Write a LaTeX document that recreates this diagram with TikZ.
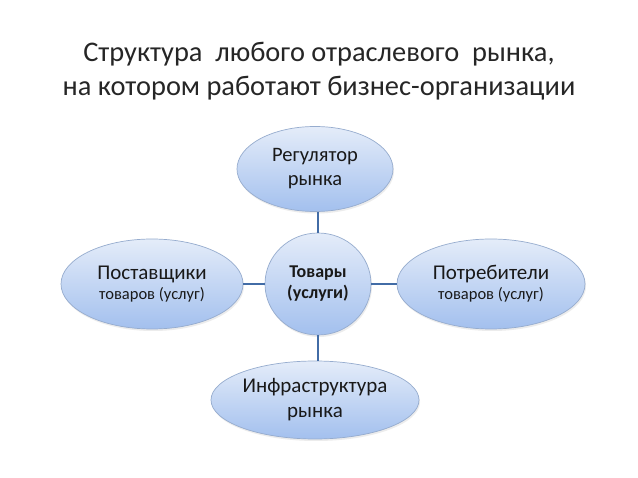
\documentclass[tikz,border=0pt]{standalone}
\usepackage{fontspec}
\setmainfont{Carlito}
\usepackage{tikz}
\usetikzlibrary{shapes.geometric,shadows}

\definecolor{elltop}{RGB}{228,236,249}
\definecolor{ellbot}{RGB}{163,192,238}
\definecolor{elledge}{RGB}{150,172,206}
\definecolor{linkblue}{RGB}{66,108,166}

\tikzset{
    oval/.style={ellipse, draw=elledge, line width=0.7pt, top color=elltop, bottom color=ellbot,
        inner sep=0pt, align=center, text=black!90,
        drop shadow={opacity=0.15, shadow xshift=1pt, shadow yshift=-2pt}},
    link/.style={draw=linkblue, line width=1.8pt}
}

\begin{document}
\begin{tikzpicture}[x=1pt, y=-1pt]
    % Frame
    \useasboundingbox (0,0) rectangle (638,478);
    \fill[white] (0,0) rectangle (638,478);

    % Title
    \node[anchor=base, align=center, text=black!85, font=\fontsize{28.4}{34}\selectfont] (title) at (319,96)
        {Структура\ \ любого отраслевого\ \ рынка,\\на котором работают бизнес-организации};

    % Centre
    \node[oval, minimum width=106pt, minimum height=102pt, font=\fontsize{18}{21}\selectfont\bfseries] (goods) at (318,284)
        {Товары\\(услуги)};

    % Regulator
    \node[oval, minimum width=156pt, minimum height=85pt, font=\fontsize{20.5}{24}\selectfont] (reg) at (315,169)
        {Регулятор\\рынка};

    % Suppliers
    \node[oval, minimum width=182pt, minimum height=90pt, font=\fontsize{21}{23}\selectfont] (supp) at (152,284)
        {Поставщики\\[-3pt]{\fontsize{16.5}{20}\selectfont товаров (услуг)}};

    % Consumers
    \node[oval, minimum width=188pt, minimum height=90pt, font=\fontsize{21}{23}\selectfont] (cons) at (491,284)
        {Потребители\\[-3pt]{\fontsize{16.5}{20}\selectfont товаров (услуг)}};

    % Infrastructure
    \node[oval, minimum width=208pt, minimum height=78pt, font=\fontsize{21}{25}\selectfont] (infra) at (315,400)
        {Инфраструктура\\рынка};

    % Links
    \draw[link] (goods.north) -- (goods.north |- reg.south);
    \draw[link] (goods.west) -- (supp.east);
    \draw[link] (goods.east) -- (cons.west);
    \draw[link] (goods.south) -- (goods.south |- infra.north);

\end{tikzpicture}
\end{document}
